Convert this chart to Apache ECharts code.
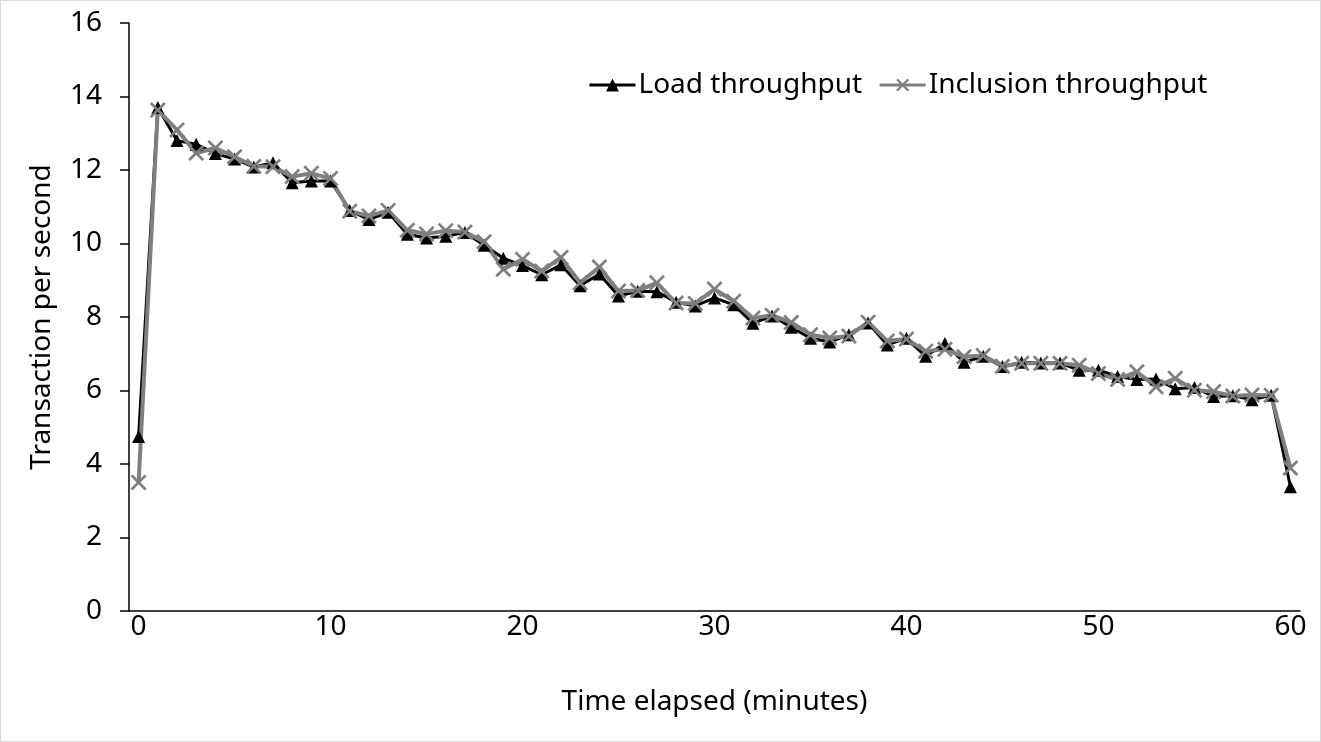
<!DOCTYPE html>
<html>
<head>
<meta charset="utf-8">
<script src="https://cdn.jsdelivr.net/npm/echarts@6/dist/echarts.min.js"></script>
<style>
  html, body { margin: 0; padding: 0; background: #fff; }
  #main { width: 1319px; height: 740px; border: 1px solid #d9d9d9; }
</style>
</head>
<body>
<div id="main"></div>
<script>
// minutes 0..60
var minutes = [];
for (var m = 0; m <= 60; m++) minutes.push(String(m));

var loadThroughput = [4.75, 13.7, 12.8, 12.7, 12.45, 12.3, 12.08, 12.2, 11.65, 11.7,
  11.7, 10.9, 10.65, 10.85, 10.25, 10.15, 10.2, 10.3, 9.95, 9.6,
  9.4, 9.15, 9.42, 8.85, 9.17, 8.57, 8.7, 8.69, 8.4, 8.3,
  8.52, 8.33, 7.83, 8.03, 7.72, 7.42, 7.32, 7.52, 7.84, 7.24,
  7.42, 6.93, 7.28, 6.77, 6.93, 6.65, 6.77, 6.75, 6.75, 6.55,
  6.55, 6.38, 6.3, 6.31, 6.05, 6.08, 5.84, 5.86, 5.75, 5.87, 3.38];

var inclusionThroughput = [3.5, 13.63, 13.09, 12.46, 12.6, 12.36, 12.1, 12.09, 11.82, 11.91,
  11.77, 10.88, 10.75, 10.9, 10.36, 10.26, 10.35, 10.31, 10.05, 9.3,
  9.57, 9.25, 9.62, 8.93, 9.36, 8.71, 8.72, 8.93, 8.38, 8.37,
  8.76, 8.43, 7.97, 8.05, 7.85, 7.52, 7.43, 7.48, 7.86, 7.35,
  7.4, 7.07, 7.12, 6.92, 6.95, 6.66, 6.74, 6.74, 6.74, 6.69,
  6.46, 6.3, 6.51, 6.1, 6.33, 6.01, 5.97, 5.85, 5.88, 5.87, 3.89];

var FONT = 'Noto Sans';
var FS = 28;
// filled "x" shape
var crossPath = 'path://M0,1.2L1.2,0L5,3.8L8.8,0L10,1.2L6.2,5L10,8.8L8.8,10L5,6.2L1.2,10L0,8.8L3.8,5Z';

var chart = echarts.init(document.getElementById('main'));
chart.setOption({
  backgroundColor: '#fff',
  animation: false,
  textStyle: { fontFamily: FONT },
  grid: { left: 128, right: 20, top: 22, bottom: 130 },
  legend: {
    left: 587, top: 70, padding: 0,
    itemWidth: 46, itemHeight: 16, itemGap: 16,
    lineStyle: { width: 3 },
    textStyle: { fontFamily: FONT, fontSize: FS, color: '#000', padding: [0, 0, 0, -2] },
    data: ['Load throughput', 'Inclusion throughput']
  },
  xAxis: {
    type: 'category',
    data: minutes,
    boundaryGap: true,
    name: 'Time elapsed (minutes)',
    nameLocation: 'middle',
    nameGap: 77,
    nameTextStyle: { fontFamily: FONT, fontSize: FS, color: '#000' },
    axisLine: { lineStyle: { color: '#000', width: 1.5 } },
    axisTick: { show: false },
    axisLabel: { interval: 9, fontSize: FS, color: '#000', margin: 2, fontFamily: FONT },
    splitLine: { show: false }
  },
  yAxis: {
    type: 'value',
    min: 0, max: 16, interval: 2,
    name: 'Transaction per second',
    nameLocation: 'middle',
    nameGap: 73,
    nameTextStyle: { fontFamily: FONT, fontSize: FS, color: '#000' },
    axisLine: { show: true, lineStyle: { color: '#000', width: 1.5 } },
    axisTick: { show: true, length: 9, lineStyle: { color: '#000', width: 1.5 } },
    axisLabel: { fontSize: FS, color: '#000', margin: 27, fontFamily: FONT },
    splitLine: { show: false }
  },
  series: [
    {
      name: 'Load throughput',
      type: 'line',
      data: loadThroughput,
      symbol: 'triangle',
      symbolSize: 13,
      showAllSymbol: true,
      lineStyle: { color: '#000', width: 3 },
      itemStyle: { color: '#000' }
    },
    {
      name: 'Inclusion throughput',
      type: 'line',
      data: inclusionThroughput,
      symbol: crossPath,
      symbolSize: 16,
      showAllSymbol: true,
      lineStyle: { color: '#7f7f7f', width: 4 },
      itemStyle: { color: '#7f7f7f' }
    }
  ]
});
</script>
</body>
</html>
